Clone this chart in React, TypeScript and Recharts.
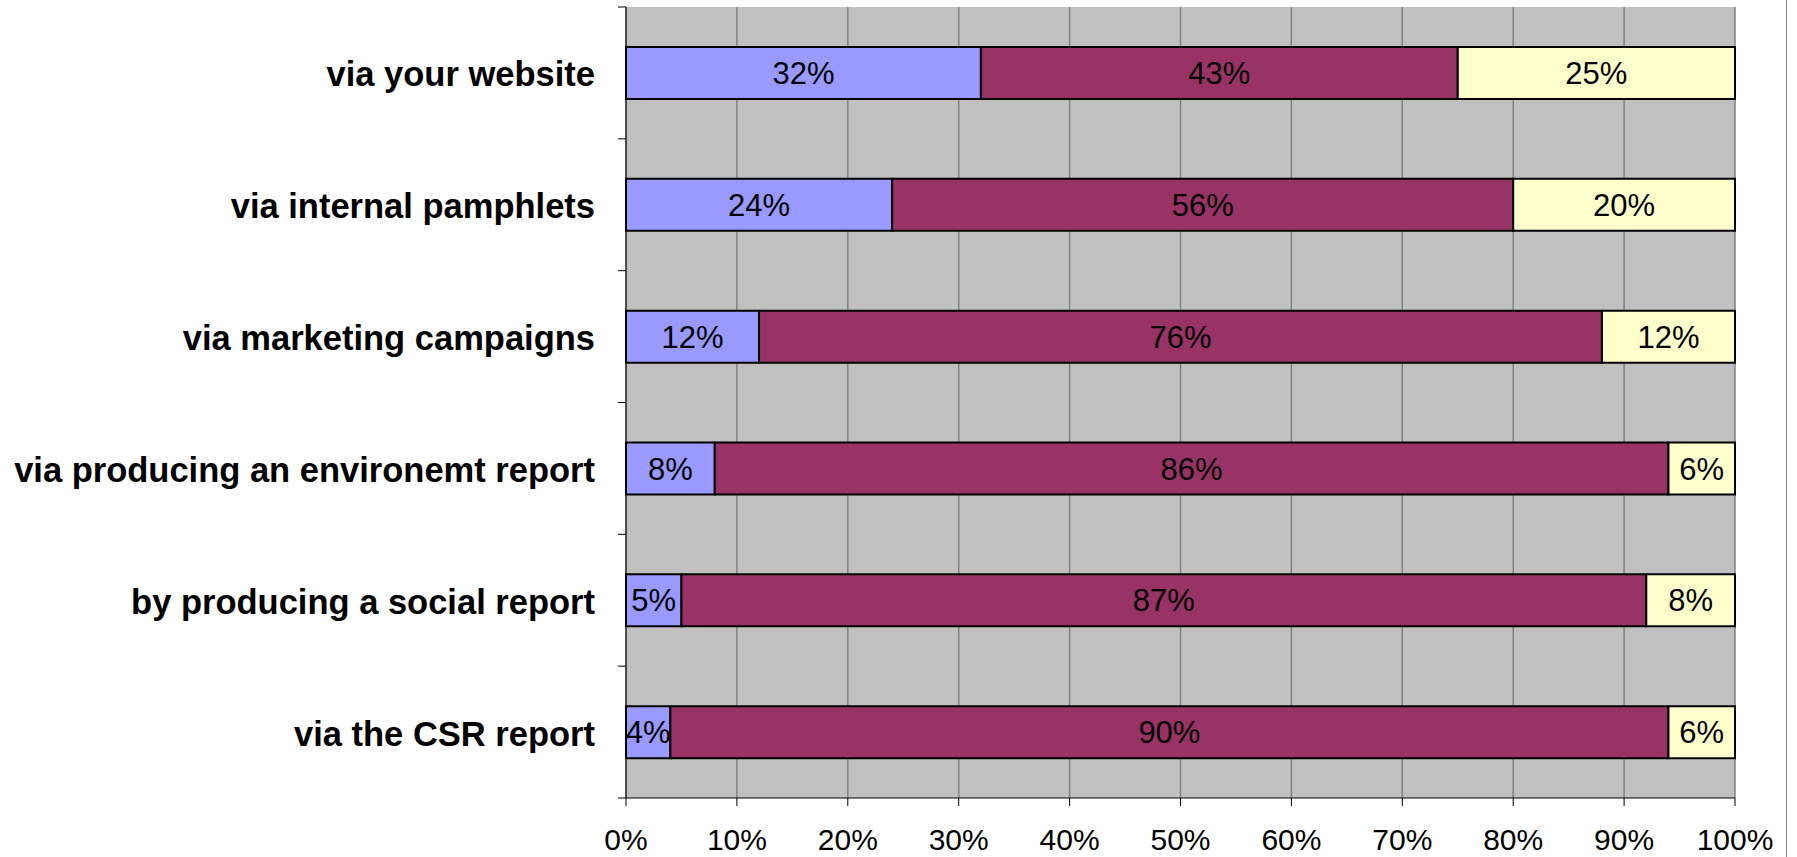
import React from 'react';
import { BarChart, Bar, XAxis, YAxis, CartesianGrid, LabelList } from 'recharts';

const categories = [
  'via your website',
  'via internal pamphlets',
  'via marketing campaigns',
  'via producing an environemt report',
  'by producing a social report',
  'via the CSR report',
];
const seriesA = [32, 24, 12, 8, 5, 4];
const seriesB = [43, 56, 76, 86, 87, 90];
const seriesC = [25, 20, 12, 6, 8, 6];
const xTicks = [0, 10, 20, 30, 40, 50, 60, 70, 80, 90, 100];

const data = categories.map((name, i) => ({ name, a: seriesA[i], b: seriesB[i], c: seriesC[i] }));

const W = 1797;
const H = 857;
const M = { top: 7, right: 62, bottom: 0, left: 0 };
const Y_W = 626;
const X_H = 59;
const PLOT_H = H - M.top - M.bottom - X_H;
const BAND = PLOT_H / categories.length;
const FONT = '"Liberation Sans", Arial, sans-serif';

const CatTick = (props: any) => {
  const { x, y, payload, index } = props;
  const ax = x + 31;
  return (
    <g>
      <line x1={ax - 8} x2={ax} y1={y - BAND / 2} y2={y - BAND / 2} stroke="#000" strokeWidth={1} />
      {index === categories.length - 1 && (
        <line x1={ax - 8} x2={ax} y1={y + BAND / 2} y2={y + BAND / 2} stroke="#000" strokeWidth={1} />
      )}
      <text x={x} y={y + 1} dy="0.36em" textAnchor="end" fontFamily={FONT} fontWeight="bold" fontSize={34.5} fill="#000">
        {payload.value}
      </text>
    </g>
  );
};

const pct = (v: any) => `${v}%`;

export default function App() {
  return (
    <div style={{ position: 'absolute', left: 0, top: 0, width: W, height: H, background: '#fff' }}>
      <BarChart width={W} height={H} data={data} layout="vertical" margin={M} barSize={52}>
        <CartesianGrid horizontal={false} vertical={true} fill="#C0C0C0" stroke="#808080" strokeWidth={1.5} />
        <XAxis
          type="number"
          domain={[0, 100]}
          ticks={xTicks}
          tickFormatter={pct}
          height={X_H}
          tickSize={8}
          tickMargin={23}
          interval={0}
          axisLine={{ stroke: '#000', strokeWidth: 1 }}
          tickLine={{ stroke: '#000' }}
          tick={{ fill: '#000', fontSize: 30, fontFamily: FONT }}
        />
        <XAxis
          xAxisId="top"
          orientation="top"
          type="number"
          domain={[0, 100]}
          height={0}
          tick={false}
          tickLine={false}
          axisLine={{ stroke: '#808080', strokeWidth: 1.5 }}
        />
        <YAxis
          type="category"
          dataKey="name"
          width={Y_W}
          tickSize={8}
          tickMargin={23}
          tickLine={false}
          interval={0}
          axisLine={{ stroke: '#000', strokeWidth: 1 }}
          tick={<CatTick />}
        />
        <Bar dataKey="a" stackId="s" fill="#9999FF" stroke="#000" strokeWidth={2} isAnimationActive={false}>
          <LabelList dataKey="a" position="center" formatter={pct} fill="#000" fontSize={31} fontFamily={FONT} />
        </Bar>
        <Bar dataKey="b" stackId="s" fill="#993366" stroke="#000" strokeWidth={2} isAnimationActive={false}>
          <LabelList dataKey="b" position="center" formatter={pct} fill="#000" fontSize={31} fontFamily={FONT} />
        </Bar>
        <Bar dataKey="c" stackId="s" fill="#FFFFCC" stroke="#000" strokeWidth={2} isAnimationActive={false}>
          <LabelList dataKey="c" position="center" formatter={pct} fill="#000" fontSize={31} fontFamily={FONT} />
        </Bar>
      </BarChart>
      <div style={{ position: 'absolute', left: 1786, top: 0, width: 1, height: H, background: '#808080' }} />
    </div>
  );
}
